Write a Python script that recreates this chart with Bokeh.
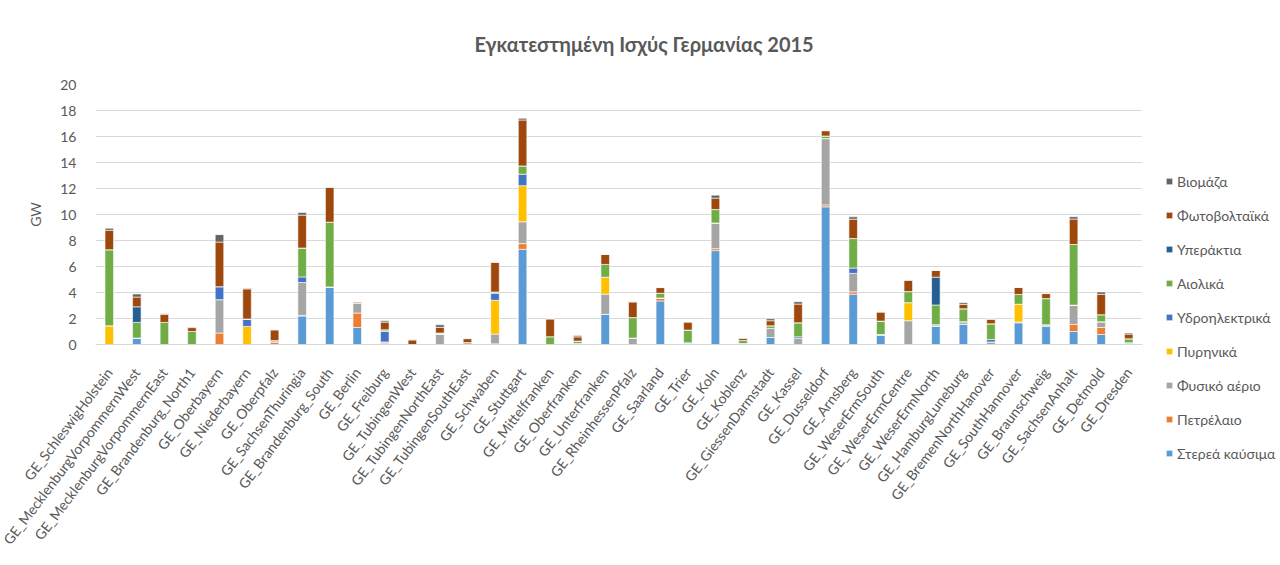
import math
from bokeh.plotting import figure
from bokeh.models import (FactorRange, Range1d, FixedTicker, Legend, LegendItem, Title)
from bokeh.embed import file_html
from bokeh.resources import INLINE

regions = [
    "GE_SchleswigHolstein", "GE_MecklenburgVorpommernWest", "GE_MecklenburgVorpommernEast",
    "GE_Brandenburg_North1", "GE_Oberbayern", "GE_Niederbayern", "GE_Oberpfalz",
    "GE_SachsenThuringia", "GE_Brandenburg_South", "GE_Berlin", "GE_Freiburg",
    "GE_TubingenWest", "GE_TubingenNorthEast", "GE_TubingenSouthEast", "GE_Schwaben",
    "GE_Stuttgart", "GE_Mittelfranken", "GE_Oberfranken", "GE_Unterfranken",
    "GE_RheinhessenPfalz", "GE_Saarland", "GE_Trier", "GE_Koln", "GE_Koblenz",
    "GE_GiessenDarmstadt", "GE_Kassel", "GE_Dusseldorf", "GE_Arnsberg",
    "GE_WeserErmSouth", "GE_WeserErmCentre", "GE_WeserErmNorth", "GE_HamburgLuneburg",
    "GE_BremenNorthHanover", "GE_SouthHannover", "GE_Braunschweig", "GE_SachsenAnhalt",
    "GE_Detmold", "GE_Dresden",
]

solid = [0, 0.5, 0, 0, 0, 0, 0, 2.19, 4.43, 1.31,
         0, 0, 0, 0, 0, 7.32, 0, 0, 2.32, 0,
         3.35, 0.13, 7.22, 0, 0.54, 0, 10.59, 3.87, 0.72, 0,
         1.39, 1.55, 0, 1.68, 1.39, 1.0, 0.77, 0]
oil = [0, 0, 0, 0, 0.88, 0, 0.15, 0.05, 0, 1.11,
       0.1, 0, 0, 0, 0.05, 0.44, 0, 0, 0, 0,
       0.23, 0, 0.15, 0, 0, 0, 0.15, 0.18, 0, 0,
       0, 0, 0, 0, 0, 0.54, 0.54, 0]
gas = [0, 0, 0, 0, 2.57, 0, 0.15, 2.53, 0, 0.75,
       0.1, 0, 0.8, 0.15, 0.75, 1.68, 0, 0.08, 1.55, 0.5,
       0, 0, 1.98, 0.08, 0.7, 0.46, 5.1, 1.42, 0.05, 1.83,
       0.13, 0.2, 0.2, 0.05, 0.13, 1.49, 0.44, 0.13]
nuclear = [1.44, 0, 0, 0, 0, 1.39, 0, 0, 0, 0,
           0, 0, 0, 0, 2.6, 2.78, 0, 0, 1.31, 0,
           0, 0, 0, 0, 0, 0, 0, 0, 0, 1.39,
           0, 0, 0, 1.37, 0, 0, 0, 0]
hydro = [0, 0, 0, 0, 1.0, 0.57, 0, 0.43, 0, 0,
         0.8, 0, 0.08, 0, 0.54, 0.88, 0, 0, 0, 0,
         0, 0, 0, 0, 0, 0.13, 0, 0.41, 0, 0,
         0, 0, 0.18, 0, 0, 0, 0, 0]
wind = [5.85, 1.2, 1.7, 1.0, 0, 0, 0, 2.22, 4.98, 0,
        0.13, 0, 0, 0, 0.1, 0.64, 0.6, 0.18, 0.98, 1.57,
        0.36, 0.98, 1.03, 0.23, 0.2, 1.08, 0.2, 2.27, 1.03, 0.85,
        1.52, 1.0, 1.21, 0.75, 2.01, 4.66, 0.54, 0.31]
offshore = [0, 1.2, 0, 0, 0, 0, 0, 0, 0, 0,
            0, 0, 0, 0, 0, 0, 0, 0, 0, 0,
            0, 0, 0, 0, 0, 0, 0, 0, 0, 0,
            2.14, 0, 0, 0, 0, 0, 0, 0]
pv = [1.5, 0.75, 0.62, 0.3, 3.43, 2.32, 0.83, 2.53, 2.68, 0.1,
      0.59, 0.36, 0.44, 0.3, 2.29, 3.53, 1.37, 0.33, 0.77, 1.21,
      0.44, 0.62, 0.88, 0.18, 0.39, 1.44, 0.41, 1.49, 0.7, 0.88,
      0.52, 0.33, 0.36, 0.54, 0.39, 1.96, 1.57, 0.36]
biomass = [0.15, 0.23, 0.05, 0.05, 0.57, 0.05, 0, 0.2, 0, 0,
           0.1, 0, 0.2, 0.02, 0, 0.13, 0, 0.1, 0, 0,
           0, 0, 0.23, 0, 0.15, 0.18, 0, 0.18, 0, 0,
           0, 0.13, 0, 0, 0, 0.18, 0.18, 0.08]

series_keys = ["solid", "oil", "gas", "nuclear", "hydro", "wind", "offshore", "pv", "biomass"]
series_names = ["Στερεά καύσιμα", "Πετρέλαιο", "Φυσικό αέριο", "Πυρηνικά", "Υδροηλεκτρικά",
                "Αιολικά", "Υπεράκτια", "Φωτοβολταϊκά", "Βιομάζα"]
series_colors = ["#5B9BD5", "#ED7D31", "#A5A5A5", "#FFC000", "#4472C4",
                 "#70AD47", "#255E91", "#9E480E", "#636363"]
y_ticks = [0, 2, 4, 6, 8, 10, 12, 14, 16, 18, 20]

title_text = "Εγκατεστημένη Ισχύς Γερμανίας 2015"
y_label = "GW"

data = dict(region=regions, solid=solid, oil=oil, gas=gas, nuclear=nuclear, hydro=hydro,
            wind=wind, offshore=offshore, pv=pv, biomass=biomass)

FONT = "Lato"
TXT = "#595959"

p = figure(x_range=FactorRange(*regions), y_range=Range1d(0, 20),
           frame_width=1047, frame_height=260, output_backend="svg", toolbar_location=None,
           min_border_left=95, min_border_right=130, min_border_top=83, min_border_bottom=214)

renderers = p.vbar_stack(series_keys, x="region", width=0.31, source=data,
                         color=series_colors, line_color="white", line_width=0.6)

items = [LegendItem(label=n, renderers=[r]) for n, r in zip(series_names, renderers)]
items = items[::-1]
legend = Legend(items=items, location=(23, -119), orientation="vertical",
                border_line_color=None, background_fill_alpha=0,
                glyph_width=8, glyph_height=8, label_height=20, spacing=14,
                padding=0, margin=0, label_standoff=4,
                label_text_font=FONT, label_text_font_size="14px", label_text_color=TXT)
p.add_layout(legend, "right")

p.title = Title(text=title_text, align="left", offset=379, standoff=58,
                text_font=FONT, text_font_size="20px", text_font_style="bold", text_color=TXT)

p.outline_line_color = None
p.xgrid.grid_line_color = None
p.ygrid.grid_line_color = "#D9D9D9"
p.ygrid.grid_line_width = 1

p.yaxis.ticker = FixedTicker(ticks=y_ticks)
p.yaxis.axis_line_color = None
p.yaxis.major_tick_line_color = None
p.yaxis.minor_tick_line_color = None
p.yaxis.major_label_standoff = 13
p.yaxis.major_label_text_font = FONT
p.yaxis.major_label_text_font_size = "14px"
p.yaxis.major_label_text_color = TXT
p.yaxis.axis_label = y_label
p.yaxis.axis_label_standoff = 13
p.yaxis.axis_label_text_font = FONT
p.yaxis.axis_label_text_font_size = "14px"
p.yaxis.axis_label_text_font_style = "normal"
p.yaxis.axis_label_text_color = TXT

p.xaxis.axis_line_color = "#D9D9D9"
p.xaxis.major_tick_line_color = None
p.xaxis.minor_tick_line_color = None
p.xaxis.major_label_orientation = math.radians(53)
p.xaxis.major_label_standoff = 19
p.xaxis.major_label_text_font = FONT
p.xaxis.major_label_text_font_size = "14px"
p.xaxis.major_label_text_color = TXT

open("out.html", "w").write(file_html(p, INLINE))
